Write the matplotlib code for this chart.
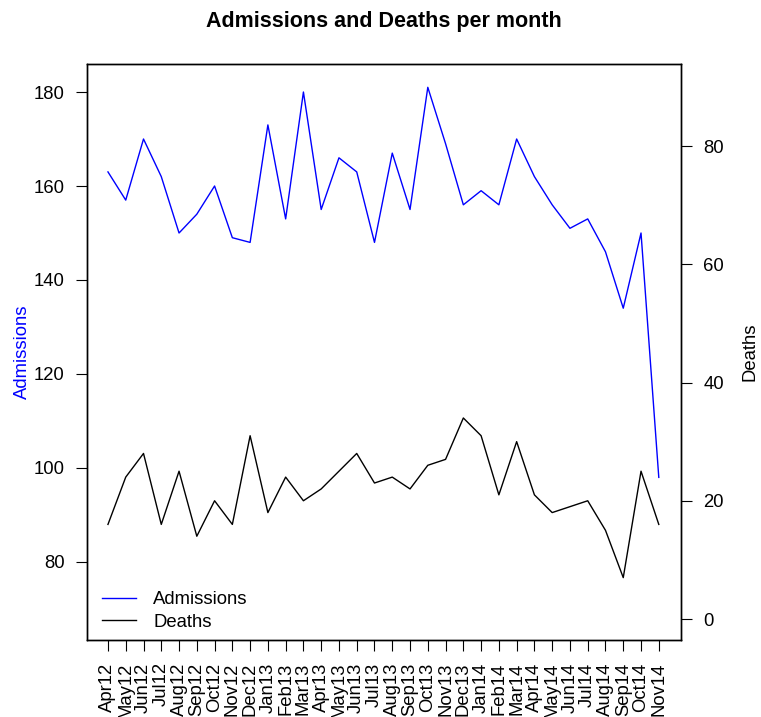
import matplotlib
matplotlib.use("Agg")
import matplotlib.pyplot as plt
import numpy as np

plt.rcParams['font.family'] = ['Liberation Sans', 'DejaVu Sans']

months = ["Apr12", "May12", "Jun12", "Jul12", "Aug12", "Sep12", "Oct12", "Nov12",
          "Dec12", "Jan13", "Feb13", "Mar13", "Apr13", "May13", "Jun13", "Jul13",
          "Aug13", "Sep13", "Oct13", "Nov13", "Dec13", "Jan14", "Feb14", "Mar14",
          "Apr14", "May14", "Jun14", "Jul14", "Aug14", "Sep14", "Oct14", "Nov14"]
admissions = [163, 157, 170, 162, 150, 154, 160, 149, 148, 173, 153, 180, 155, 166, 163, 148,
              167, 155, 181, 169, 156, 159, 156, 170, 162, 156, 151, 153, 146, 134, 150, 98]
deaths = [16, 24, 28, 16, 25, 14, 20, 16, 31, 18, 24, 20, 22, 25, 28, 23,
          24, 22, 26, 27, 34, 31, 21, 30, 21, 18, 19, 20, 15, 7, 25, 16]
left_ticks = [80, 100, 120, 140, 160, 180]
right_ticks = [0, 20, 40, 60, 80]

FS = 13.3
W, H = 761, 717
fig = plt.figure(figsize=(W / 100, H / 100), dpi=100)
L, R, T, B = 87, 681, 64, 640
ax = fig.add_axes([L / W, 1 - B / H, (R - L) / W, (B - T) / H])
ax2 = ax.twinx()

x = np.arange(len(months))
l1, = ax.plot(x, admissions, color='blue', lw=1)
l2, = ax2.plot(x, deaths, color='black', lw=1)

ax.set_xlim(-1.18, 32.25)
ax.set_ylim(63.4, 185.96)
ax2.set_ylim(-3.55, 93.87)

ax.set_xticks(x)
ax.set_xticklabels(months, rotation=90, fontsize=FS)
ax.set_yticks(left_ticks)
ax.set_yticklabels([str(v) for v in left_ticks], fontsize=FS)
ax2.set_yticks(right_ticks)
ax2.set_yticklabels([str(v) for v in right_ticks], fontsize=FS)

for a in (ax, ax2):
    a.tick_params(direction='out', length=8.2, width=0.8, pad=8)
    for s in a.spines.values():
        s.set_linewidth(1.0)

ax.set_ylabel("Admissions", color='blue', fontsize=FS, labelpad=2)
ax2.set_ylabel("Deaths", color='black', fontsize=FS, labelpad=12.5)

fig.text(0.5 * (L + R) / W, 1 - 21 / H, "Admissions and Deaths per month",
         ha='center', va='center', fontsize=15.5, fontweight='bold')

leg = ax.legend([l1, l2], ["Admissions", "Deaths"], loc='lower left', frameon=False,
                fontsize=FS, handlelength=1.85, handletextpad=0.9, labelspacing=0.3,
                borderaxespad=0.0, borderpad=0.5, bbox_to_anchor=(6 / 594, 0.0))

fig.savefig("out.png", dpi=100)
